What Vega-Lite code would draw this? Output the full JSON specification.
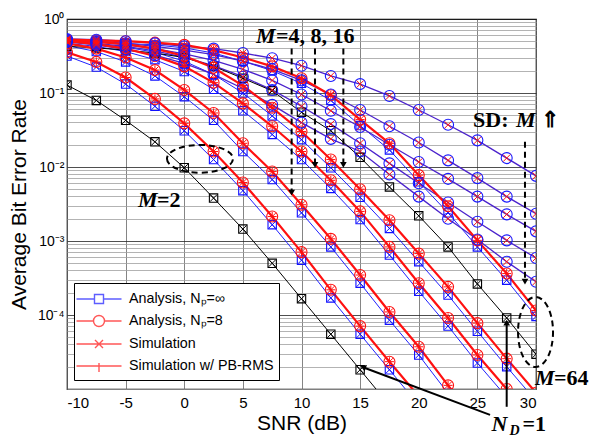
{
"$schema": "https://vega.github.io/schema/vega-lite/v6.json",
"width": 469, "height": 370,
"autosize": "none",
"padding": {"left": 67, "top": 19, "right": 54, "bottom": 49},
"background": "white",
"config": {
  "font": "Liberation Sans",
  "view": {"stroke": "black", "strokeWidth": 1.2},
  "legend": {"orient": "none", "legendX": 7, "legendY": 264, "title": null, "symbolSize": 400, "labelFontSize": 14.3, "labelFont": "Liberation Sans", "labelColor": "black", "strokeColor": "black", "fillColor": "white", "padding": 5, "rowPadding": 3, "symbolOffset": 9, "labelOffset": 19, "symbolStrokeWidth": 1.4, "labelLimit": 300}
},
"datasets": {
  "main": [
    {"s":"B1","k":"p8","x":-10,"y":0.355},{"s":"B1","k":"p8","x":-7.5,"y":0.263},{"s":"B1","k":"p8","x":-5,"y":0.162},{"s":"B1","k":"p8","x":-2.5,"y":0.0832},{"s":"B1","k":"p8","x":0,"y":0.0389},{"s":"B1","k":"p8","x":2.5,"y":0.0162},{"s":"B1","k":"p8","x":5,"y":0.00617},{"s":"B1","k":"p8","x":7.5,"y":0.00214},{"s":"B1","k":"p8","x":10,"y":0.000708},{"s":"B1","k":"p8","x":12.5,"y":0.000219},{"s":"B1","k":"p8","x":15,"y":0.0000708},{"s":"B1","k":"p8","x":17.5,"y":0.0000234},{"s":"B1","k":"p8","x":20,"y":0.00000794},
    {"s":"B1","k":"inf","x":-10,"y":0.316},{"s":"B1","k":"inf","x":-7.5,"y":0.224},{"s":"B1","k":"inf","x":-5,"y":0.132},{"s":"B1","k":"inf","x":-2.5,"y":0.0661},{"s":"B1","k":"inf","x":0,"y":0.0309},{"s":"B1","k":"inf","x":2.5,"y":0.0126},{"s":"B1","k":"inf","x":5,"y":0.00479},{"s":"B1","k":"inf","x":7.5,"y":0.00166},{"s":"B1","k":"inf","x":10,"y":0.00055},{"s":"B1","k":"inf","x":12.5,"y":0.00017},{"s":"B1","k":"inf","x":15,"y":0.000055},{"s":"B1","k":"inf","x":17.5,"y":0.0000182},{"s":"B1","k":"inf","x":20,"y":0.00000603},
    {"s":"B2","k":"p8","x":-10,"y":0.468},{"s":"B2","k":"p8","x":-7.5,"y":0.398},{"s":"B2","k":"p8","x":-5,"y":0.302},{"s":"B2","k":"p8","x":-2.5,"y":0.204},{"s":"B2","k":"p8","x":0,"y":0.110},{"s":"B2","k":"p8","x":2.5,"y":0.0537},{"s":"B2","k":"p8","x":5,"y":0.0209},{"s":"B2","k":"p8","x":7.5,"y":0.00871},{"s":"B2","k":"p8","x":10,"y":0.00309},{"s":"B2","k":"p8","x":12.5,"y":0.00107},{"s":"B2","k":"p8","x":15,"y":0.000347},{"s":"B2","k":"p8","x":17.5,"y":0.00011},{"s":"B2","k":"p8","x":20,"y":0.0000372},{"s":"B2","k":"p8","x":22.5,"y":0.0000112},{"s":"B2","k":"p8","x":25,"y":0.00000355},
    {"s":"B2","k":"inf","x":-10,"y":0.437},{"s":"B2","k":"inf","x":-7.5,"y":0.363},{"s":"B2","k":"inf","x":-5,"y":0.263},{"s":"B2","k":"inf","x":-2.5,"y":0.170},{"s":"B2","k":"inf","x":0,"y":0.0891},{"s":"B2","k":"inf","x":2.5,"y":0.0427},{"s":"B2","k":"inf","x":5,"y":0.0162},{"s":"B2","k":"inf","x":7.5,"y":0.00676},{"s":"B2","k":"inf","x":10,"y":0.0024},{"s":"B2","k":"inf","x":12.5,"y":0.000832},{"s":"B2","k":"inf","x":15,"y":0.000269},{"s":"B2","k":"inf","x":17.5,"y":0.0000851},{"s":"B2","k":"inf","x":20,"y":0.0000288},{"s":"B2","k":"inf","x":22.5,"y":0.00000871},
    {"s":"B3","k":"p8","x":-10,"y":0.501},{"s":"B3","k":"p8","x":-7.5,"y":0.457},{"s":"B3","k":"p8","x":-5,"y":0.398},{"s":"B3","k":"p8","x":-2.5,"y":0.316},{"s":"B3","k":"p8","x":0,"y":0.229},{"s":"B3","k":"p8","x":2.5,"y":0.138},{"s":"B3","k":"p8","x":5,"y":0.0724},{"s":"B3","k":"p8","x":7.5,"y":0.0355},{"s":"B3","k":"p8","x":10,"y":0.0162},{"s":"B3","k":"p8","x":12.5,"y":0.00661},{"s":"B3","k":"p8","x":15,"y":0.00251},{"s":"B3","k":"p8","x":17.5,"y":0.000832},{"s":"B3","k":"p8","x":20,"y":0.000269},{"s":"B3","k":"p8","x":22.5,"y":0.0000912},{"s":"B3","k":"p8","x":25,"y":0.0000288},{"s":"B3","k":"p8","x":27.5,"y":0.00001},{"s":"B3","k":"p8","x":30,"y":0.00000316},
    {"s":"B3","k":"inf","x":-10,"y":0.468},{"s":"B3","k":"inf","x":-7.5,"y":0.427},{"s":"B3","k":"inf","x":-5,"y":0.363},{"s":"B3","k":"inf","x":-2.5,"y":0.282},{"s":"B3","k":"inf","x":0,"y":0.195},{"s":"B3","k":"inf","x":2.5,"y":0.112},{"s":"B3","k":"inf","x":5,"y":0.0575},{"s":"B3","k":"inf","x":7.5,"y":0.0275},{"s":"B3","k":"inf","x":10,"y":0.0126},{"s":"B3","k":"inf","x":12.5,"y":0.00513},{"s":"B3","k":"inf","x":15,"y":0.00195},{"s":"B3","k":"inf","x":17.5,"y":0.000646},{"s":"B3","k":"inf","x":20,"y":0.000209},{"s":"B3","k":"inf","x":22.5,"y":0.0000708},{"s":"B3","k":"inf","x":25,"y":0.0000224},{"s":"B3","k":"inf","x":27.5,"y":0.00000776},
    {"s":"B4","k":"p8","x":-10,"y":0.513},{"s":"B4","k":"p8","x":-7.5,"y":0.490},{"s":"B4","k":"p8","x":-5,"y":0.457},{"s":"B4","k":"p8","x":-2.5,"y":0.398},{"s":"B4","k":"p8","x":0,"y":0.316},{"s":"B4","k":"p8","x":2.5,"y":0.219},{"s":"B4","k":"p8","x":5,"y":0.126},{"s":"B4","k":"p8","x":7.5,"y":0.0631},{"s":"B4","k":"p8","x":10,"y":0.0302},{"s":"B4","k":"p8","x":12.5,"y":0.0126},{"s":"B4","k":"p8","x":15,"y":0.00501},{"s":"B4","k":"p8","x":17.5,"y":0.00191},{"s":"B4","k":"p8","x":20,"y":0.000676},{"s":"B4","k":"p8","x":22.5,"y":0.00024},{"s":"B4","k":"p8","x":25,"y":0.0000776},{"s":"B4","k":"p8","x":27.5,"y":0.0000257},{"s":"B4","k":"p8","x":30,"y":0.00000891},
    {"s":"B4","k":"inf","x":-10,"y":0.490},{"s":"B4","k":"inf","x":-7.5,"y":0.457},{"s":"B4","k":"inf","x":-5,"y":0.417},{"s":"B4","k":"inf","x":-2.5,"y":0.355},{"s":"B4","k":"inf","x":0,"y":0.269},{"s":"B4","k":"inf","x":2.5,"y":0.178},{"s":"B4","k":"inf","x":5,"y":0.1},{"s":"B4","k":"inf","x":7.5,"y":0.049},{"s":"B4","k":"inf","x":10,"y":0.0234},{"s":"B4","k":"inf","x":12.5,"y":0.00977},{"s":"B4","k":"inf","x":15,"y":0.00389},{"s":"B4","k":"inf","x":17.5,"y":0.00148},{"s":"B4","k":"inf","x":20,"y":0.000525},{"s":"B4","k":"inf","x":22.5,"y":0.000186},{"s":"B4","k":"inf","x":25,"y":0.0000603},{"s":"B4","k":"inf","x":27.5,"y":0.00002},{"s":"B4","k":"inf","x":30,"y":0.00000692},
    {"s":"B5","k":"p8","x":-10,"y":0.525},{"s":"B5","k":"p8","x":-7.5,"y":0.513},{"s":"B5","k":"p8","x":-5,"y":0.501},{"s":"B5","k":"p8","x":-2.5,"y":0.479},{"s":"B5","k":"p8","x":0,"y":0.447},{"s":"B5","k":"p8","x":2.5,"y":0.380},{"s":"B5","k":"p8","x":5,"y":0.302},{"s":"B5","k":"p8","x":7.5,"y":0.229},{"s":"B5","k":"p8","x":10,"y":0.158},{"s":"B5","k":"p8","x":12.5,"y":0.0933},{"s":"B5","k":"p8","x":15,"y":0.0437},{"s":"B5","k":"p8","x":17.5,"y":0.0209},{"s":"B5","k":"p8","x":20,"y":0.00776},{"s":"B5","k":"p8","x":22.5,"y":0.00295},{"s":"B5","k":"p8","x":25,"y":0.00102},{"s":"B5","k":"p8","x":27.5,"y":0.000363},{"s":"B5","k":"p8","x":30,"y":0.000115},
    {"s":"B5","k":"inf","x":-10,"y":0.501},{"s":"B5","k":"inf","x":-7.5,"y":0.490},{"s":"B5","k":"inf","x":-5,"y":0.468},{"s":"B5","k":"inf","x":-2.5,"y":0.447},{"s":"B5","k":"inf","x":0,"y":0.407},{"s":"B5","k":"inf","x":2.5,"y":0.347},{"s":"B5","k":"inf","x":5,"y":0.269},{"s":"B5","k":"inf","x":7.5,"y":0.2},{"s":"B5","k":"inf","x":10,"y":0.135},{"s":"B5","k":"inf","x":12.5,"y":0.0794},{"s":"B5","k":"inf","x":15,"y":0.0363},{"s":"B5","k":"inf","x":17.5,"y":0.017},{"s":"B5","k":"inf","x":20,"y":0.00631},{"s":"B5","k":"inf","x":22.5,"y":0.0024},{"s":"B5","k":"inf","x":25,"y":0.000832},{"s":"B5","k":"inf","x":27.5,"y":0.000295},{"s":"B5","k":"inf","x":30,"y":0.0000955},
    {"s":"S1","k":"sd","x":-10,"y":0.537},{"s":"S1","k":"sd","x":-7.5,"y":0.525},{"s":"S1","k":"sd","x":-5,"y":0.501},{"s":"S1","k":"sd","x":-2.5,"y":0.468},{"s":"S1","k":"sd","x":0,"y":0.427},{"s":"S1","k":"sd","x":2.5,"y":0.398},{"s":"S1","k":"sd","x":5,"y":0.347},{"s":"S1","k":"sd","x":7.5,"y":0.295},{"s":"S1","k":"sd","x":10,"y":0.234},{"s":"S1","k":"sd","x":12.5,"y":0.170},{"s":"S1","k":"sd","x":15,"y":0.132},{"s":"S1","k":"sd","x":17.5,"y":0.0912},{"s":"S1","k":"sd","x":20,"y":0.0589},{"s":"S1","k":"sd","x":22.5,"y":0.0372},{"s":"S1","k":"sd","x":25,"y":0.0229},{"s":"S1","k":"sd","x":27.5,"y":0.0132},{"s":"S1","k":"sd","x":30,"y":0.00759},
    {"s":"S2","k":"sd","x":-10,"y":0.525},{"s":"S2","k":"sd","x":-7.5,"y":0.501},{"s":"S2","k":"sd","x":-5,"y":0.468},{"s":"S2","k":"sd","x":-2.5,"y":0.427},{"s":"S2","k":"sd","x":0,"y":0.380},{"s":"S2","k":"sd","x":2.5,"y":0.331},{"s":"S2","k":"sd","x":5,"y":0.269},{"s":"S2","k":"sd","x":7.5,"y":0.209},{"s":"S2","k":"sd","x":10,"y":0.148},{"s":"S2","k":"sd","x":12.5,"y":0.0955},{"s":"S2","k":"sd","x":15,"y":0.0589},{"s":"S2","k":"sd","x":17.5,"y":0.0355},{"s":"S2","k":"sd","x":20,"y":0.0214},{"s":"S2","k":"sd","x":22.5,"y":0.0123},{"s":"S2","k":"sd","x":25,"y":0.00708},{"s":"S2","k":"sd","x":27.5,"y":0.00398},{"s":"S2","k":"sd","x":30,"y":0.00234},
    {"s":"S3","k":"sd","x":-10,"y":0.513},{"s":"S3","k":"sd","x":-7.5,"y":0.490},{"s":"S3","k":"sd","x":-5,"y":0.447},{"s":"S3","k":"sd","x":-2.5,"y":0.398},{"s":"S3","k":"sd","x":0,"y":0.339},{"s":"S3","k":"sd","x":2.5,"y":0.275},{"s":"S3","k":"sd","x":5,"y":0.209},{"s":"S3","k":"sd","x":7.5,"y":0.148},{"s":"S3","k":"sd","x":10,"y":0.0955},{"s":"S3","k":"sd","x":12.5,"y":0.0575},{"s":"S3","k":"sd","x":15,"y":0.0347},{"s":"S3","k":"sd","x":17.5,"y":0.02},{"s":"S3","k":"sd","x":20,"y":0.0117},{"s":"S3","k":"sd","x":22.5,"y":0.00692},{"s":"S3","k":"sd","x":25,"y":0.00398},{"s":"S3","k":"sd","x":27.5,"y":0.00229},{"s":"S3","k":"sd","x":30,"y":0.00135},
    {"s":"S4","k":"sd","x":-10,"y":0.501},{"s":"S4","k":"sd","x":-7.5,"y":0.468},{"s":"S4","k":"sd","x":-5,"y":0.427},{"s":"S4","k":"sd","x":-2.5,"y":0.372},{"s":"S4","k":"sd","x":0,"y":0.302},{"s":"S4","k":"sd","x":2.5,"y":0.234},{"s":"S4","k":"sd","x":5,"y":0.166},{"s":"S4","k":"sd","x":7.5,"y":0.110},{"s":"S4","k":"sd","x":10,"y":0.0661},{"s":"S4","k":"sd","x":12.5,"y":0.0380},{"s":"S4","k":"sd","x":15,"y":0.0209},{"s":"S4","k":"sd","x":17.5,"y":0.0112},{"s":"S4","k":"sd","x":20,"y":0.00603},{"s":"S4","k":"sd","x":22.5,"y":0.00331},{"s":"S4","k":"sd","x":25,"y":0.00182},{"s":"S4","k":"sd","x":27.5,"y":0.00102},{"s":"S4","k":"sd","x":30,"y":0.000589},
    {"s":"S5","k":"sd","x":-10,"y":0.490},{"s":"S5","k":"sd","x":-7.5,"y":0.447},{"s":"S5","k":"sd","x":-5,"y":0.389},{"s":"S5","k":"sd","x":-2.5,"y":0.324},{"s":"S5","k":"sd","x":0,"y":0.251},{"s":"S5","k":"sd","x":2.5,"y":0.178},{"s":"S5","k":"sd","x":5,"y":0.115},{"s":"S5","k":"sd","x":7.5,"y":0.0692},{"s":"S5","k":"sd","x":10,"y":0.0398},{"s":"S5","k":"sd","x":12.5,"y":0.024},{"s":"S5","k":"sd","x":15,"y":0.0162},{"s":"S5","k":"sd","x":17.5,"y":0.00794},{"s":"S5","k":"sd","x":20,"y":0.00398},{"s":"S5","k":"sd","x":22.5,"y":0.002},{"s":"S5","k":"sd","x":25,"y":0.00105},{"s":"S5","k":"sd","x":27.5,"y":0.000525},{"s":"S5","k":"sd","x":30,"y":0.000282},
    {"s":"K1","k":"bk","x":-10,"y":0.128},{"s":"K1","k":"bk","x":-7.5,"y":0.0794},{"s":"K1","k":"bk","x":-5,"y":0.0427},{"s":"K1","k":"bk","x":-2.5,"y":0.0219},{"s":"K1","k":"bk","x":0,"y":0.00977},{"s":"K1","k":"bk","x":2.5,"y":0.0038},{"s":"K1","k":"bk","x":5,"y":0.00145},{"s":"K1","k":"bk","x":7.5,"y":0.0005},{"s":"K1","k":"bk","x":10,"y":0.000166},{"s":"K1","k":"bk","x":12.5,"y":0.000055},{"s":"K1","k":"bk","x":15,"y":0.0000182},{"s":"K1","k":"bk","x":17.5,"y":0.00000603},
    {"s":"K2","k":"bk","x":-10,"y":0.427},{"s":"K2","k":"bk","x":-7.5,"y":0.407},{"s":"K2","k":"bk","x":-5,"y":0.380},{"s":"K2","k":"bk","x":-2.5,"y":0.347},{"s":"K2","k":"bk","x":0,"y":0.302},{"s":"K2","k":"bk","x":2.5,"y":0.229},{"s":"K2","k":"bk","x":5,"y":0.158},{"s":"K2","k":"bk","x":7.5,"y":0.107},{"s":"K2","k":"bk","x":10,"y":0.055},{"s":"K2","k":"bk","x":12.5,"y":0.0309},{"s":"K2","k":"bk","x":15,"y":0.0135},{"s":"K2","k":"bk","x":17.5,"y":0.00537},{"s":"K2","k":"bk","x":20,"y":0.00219},{"s":"K2","k":"bk","x":22.5,"y":0.000832},{"s":"K2","k":"bk","x":25,"y":0.000263},{"s":"K2","k":"bk","x":27.5,"y":0.0000912},{"s":"K2","k":"bk","x":30,"y":0.0000295}
  ],
  "tI": [{"t":"M","x":6.12,"y":0.474},{"t":"M","x":28.3,"y":0.0347},{"t":"M","x":-3.94,"y":0.00288},{"t":"M","x":29.91,"y":0.0000113},{"t":"N","x":26.2,"y":0.0000027}],
  "tU": [{"t":"=4, 8, 16","x":7.83,"y":0.474},{"t":"SD:","x":24.63,"y":0.0347},{"t":"⇑","x":30.45,"y":0.0347},{"t":"=2","x":-2.32,"y":0.00288},{"t":"=64","x":31.53,"y":0.0000113},{"t":"=1","x":28.85,"y":0.0000027}],
  "tS": [{"t":"D","x":27.75,"y":0.0000024}],
  "da": [{"x":9.16,"y":0.4,"y2":0.0047},{"x":11.15,"y":0.4,"y2":0.0112},{"x":13.57,"y":0.4,"y2":0.0112},{"x":29.06,"y":0.0219,"y2":0.0003}],
  "dh": [{"x":9.16,"y":0.0045},{"x":11.15,"y":0.0107},{"x":13.57,"y":0.0107},{"x":29.06,"y":0.000282}],
  "nd": [{"x":26.08,"y":0.00000447,"x2":15.3,"y2":0.0000195},{"x":27.5,"y":0.00000575,"x2":27.5,"y2":0.000075}],
  "ndU": [{"x":27.5,"y":0.000079}],
  "ndL": [{"x":15.25,"y":0.0000197}],
  "e1": [{"x":1.34,"y":0.0129}],
  "e2": [{"x":29.96,"y":0.0000589}],
  "leg": [{"lab":"Analysis, Nₚ=∞"},{"lab":"Analysis, Nₚ=8"},{"lab":"Simulation"},{"lab":"Simulation w/ PB-RMS"}]
},
"encoding": {
  "x": {"field": "x", "type": "quantitative", "scale": {"domain": [-10, 30], "nice": false, "zero": false},
        "axis": {"values": [-10,-5,0,5,10,15,20,25,30], "labelExpr": "toString(datum.value)", "title": "SNR (dB)", "titleFontSize": 21, "titleFontWeight": "normal", "titleColor": "black", "titleY": 23, "titleBaseline": "top", "labelFontSize": 15, "labelColor": "black", "labelPadding": 6, "ticks": false, "domain": false, "grid": true, "gridColor": "#666", "gridWidth": 0.8}},
  "y": {"field": "y", "type": "quantitative", "scale": {"type": "log", "domain": [0.00001, 1], "nice": false},
        "axis": {"values": [0.00001,0.00002,0.00003,0.00004,0.00005,0.00006,0.00007,0.00008,0.00009,0.0001,0.0002,0.0003,0.0004,0.0005,0.0006,0.0007,0.0008,0.0009,0.001,0.002,0.003,0.004,0.005,0.006,0.007,0.008,0.009,0.01,0.02,0.03,0.04,0.05,0.06,0.07,0.08,0.09,0.1,0.2,0.3,0.4,0.5,0.6,0.7,0.8,0.9,1],
                 "labelExpr": "datum.value==1?'10⁰':datum.value==0.1?'10⁻¹':datum.value==0.01?'10⁻²':datum.value==0.001?'10⁻³':datum.value==0.0001?'10⁻⁴':''",
                 "labelOverlap": false, "labelBound": false, "labelFontSize": 14, "labelColor": "black", "labelPadding": 3, "ticks": false, "domain": false,
                 "grid": true, "gridColor": {"condition": {"test": "datum.value==1||datum.value==0.1||datum.value==0.01||datum.value==0.001||datum.value==0.0001", "value": "#222"}, "value": "#a0a0a0"}, "gridWidth": 0.8,
                 "title": "Average Bit Error Rate", "titleFontSize": 21, "titleFontWeight": "normal", "titleColor": "black", "titleX": -38, "titleBaseline": "bottom"}}
},
"layer": [
  {"data": {"name": "main"}, "transform": [{"filter": "datum.k=='inf'"}], "mark": {"type": "line", "color": "#2020ff", "strokeWidth": 1, "clip": true}, "encoding": {"detail": {"field": "s"}}},
  {"data": {"name": "main"}, "transform": [{"filter": "datum.k=='sd'"}], "mark": {"type": "line", "color": "#4b22cc", "strokeWidth": 1.3, "clip": true}, "encoding": {"detail": {"field": "s"}}},
  {"data": {"name": "main"}, "transform": [{"filter": "datum.k=='bk'"}], "mark": {"type": "line", "color": "black", "strokeWidth": 1, "clip": true}, "encoding": {"detail": {"field": "s"}}},
  {"data": {"name": "main"}, "transform": [{"filter": "datum.k=='p8'"}], "mark": {"type": "line", "color": "#ff1010", "strokeWidth": 2.2, "clip": true}, "encoding": {"detail": {"field": "s"}}},
  {"data": {"name": "main"}, "transform": [{"filter": "datum.k=='inf'"}], "mark": {"type": "point", "shape": "square", "size": 70, "filled": false, "color": "#1010ff", "strokeWidth": 1.1, "opacity": 1, "clip": true}},
  {"data": {"name": "main"}, "transform": [{"filter": "datum.k=='inf'"}], "mark": {"type": "point", "shape": "M-1,-1L1,1M-1,1L1,-1", "size": 49, "filled": false, "color": "#1010ff", "strokeWidth": 1, "opacity": 1, "clip": true}},
  {"data": {"name": "main"}, "transform": [{"filter": "datum.k=='bk'"}], "mark": {"type": "point", "shape": "square", "size": 70, "filled": false, "color": "black", "strokeWidth": 1.1, "opacity": 1, "clip": true}},
  {"data": {"name": "main"}, "transform": [{"filter": "datum.k=='bk'"}], "mark": {"type": "point", "shape": "M-1,-1L1,1M-1,1L1,-1", "size": 49, "filled": false, "color": "black", "strokeWidth": 1, "opacity": 1, "clip": true}},
  {"data": {"name": "main"}, "transform": [{"filter": "datum.k=='p8'"}], "mark": {"type": "point", "shape": "circle", "size": 121, "filled": false, "color": "#ff1010", "strokeWidth": 1.1, "opacity": 1, "clip": true}},
  {"data": {"name": "main"}, "transform": [{"filter": "datum.k=='p8'"}], "mark": {"type": "point", "shape": "M-1,-1L1,1M-1,1L1,-1", "size": 49, "filled": false, "color": "#ff1010", "strokeWidth": 1, "opacity": 1, "clip": true}},
  {"data": {"name": "main"}, "transform": [{"filter": "datum.k=='p8'"}], "mark": {"type": "point", "shape": "M-1,0H1M0,-1V1", "size": 81, "filled": false, "color": "#ff1010", "strokeWidth": 1, "opacity": 1, "clip": true}},
  {"data": {"name": "main"}, "transform": [{"filter": "datum.k=='sd'"}], "mark": {"type": "point", "shape": "circle", "size": 121, "filled": false, "color": "#1a1aff", "strokeWidth": 1.1, "opacity": 1, "clip": true}},
  {"data": {"name": "main"}, "transform": [{"filter": "datum.k=='sd'"}], "mark": {"type": "point", "shape": "M-1,-1L1,1M-1,1L1,-1", "size": 49, "filled": false, "color": "#ff1010", "strokeWidth": 1, "opacity": 1, "clip": true}},
  {"data": {"name": "da"}, "mark": {"type": "rule", "color": "black", "strokeWidth": 2, "strokeDash": [6, 4]}, "encoding": {"y2": {"field": "y2"}}},
  {"data": {"name": "dh"}, "mark": {"type": "point", "shape": "triangle-down", "size": 45, "filled": true, "color": "black", "opacity": 1}},
  {"data": {"name": "nd"}, "mark": {"type": "rule", "color": "black", "strokeWidth": 2}, "encoding": {"x2": {"field": "x2"}, "y2": {"field": "y2"}}},
  {"data": {"name": "ndU"}, "mark": {"type": "point", "shape": "triangle-up", "size": 45, "filled": true, "color": "black", "opacity": 1}},
  {"data": {"name": "ndL"}, "mark": {"type": "point", "shape": "triangle-left", "angle": 20, "size": 45, "filled": true, "color": "black", "opacity": 1}},
  {"data": {"name": "e1"}, "mark": {"type": "point", "shape": "M-1,0A1,0.42,0,1,0,1,0A1,0.42,0,1,0,-1,0Z", "size": 4356, "filled": false, "color": "black", "strokeWidth": 2, "strokeDash": [6, 4], "opacity": 1}},
  {"data": {"name": "e2"}, "mark": {"type": "point", "shape": "M-0.5,0A0.5,1,0,1,0,0.5,0A0.5,1,0,1,0,-0.5,0Z", "size": 4900, "filled": false, "color": "black", "strokeWidth": 2, "strokeDash": [6, 4], "opacity": 1}},
  {"data": {"name": "tI"}, "mark": {"type": "text", "font": "Liberation Serif", "fontSize": 22, "fontWeight": "bold", "fontStyle": "italic", "align": "left", "baseline": "alphabetic", "color": "black"}, "encoding": {"text": {"field": "t"}}},
  {"data": {"name": "tU"}, "mark": {"type": "text", "font": "Liberation Serif", "fontSize": 22, "fontWeight": "bold", "align": "left", "baseline": "alphabetic", "color": "black"}, "encoding": {"text": {"field": "t"}}},
  {"data": {"name": "tS"}, "mark": {"type": "text", "font": "Liberation Serif", "fontSize": 14, "fontWeight": "bold", "fontStyle": "italic", "align": "left", "baseline": "alphabetic", "color": "black"}, "encoding": {"text": {"field": "t"}}},
  {"data": {"name": "leg"}, "mark": {"type": "point", "filled": false},
   "encoding": {
     "color": {"field": "lab", "type": "nominal", "scale": {"domain": ["Analysis, Nₚ=∞","Analysis, Nₚ=8","Simulation","Simulation w/ PB-RMS"], "range": ["#1a1aff","#ff1010","#ff1010","#ff1010"]}},
     "shape": {"field": "lab", "type": "nominal", "scale": {"domain": ["Analysis, Nₚ=∞","Analysis, Nₚ=8","Simulation","Simulation w/ PB-RMS"], "range": ["M-2.25,0H-0.45M0.45,0H2.25M-0.45,-0.45H0.45V0.45H-0.45Z","M-2.25,0H-0.55M0.55,0H2.25M-0.55,0A0.55,0.55,0,1,0,0.55,0A0.55,0.55,0,1,0,-0.55,0Z","M-2.25,0H2.25M-0.4,-0.4L0.4,0.4M-0.4,0.4L0.4,-0.4","M-2.25,0H2.25M0,-0.3V0.6"]}}
   }}
]
}
